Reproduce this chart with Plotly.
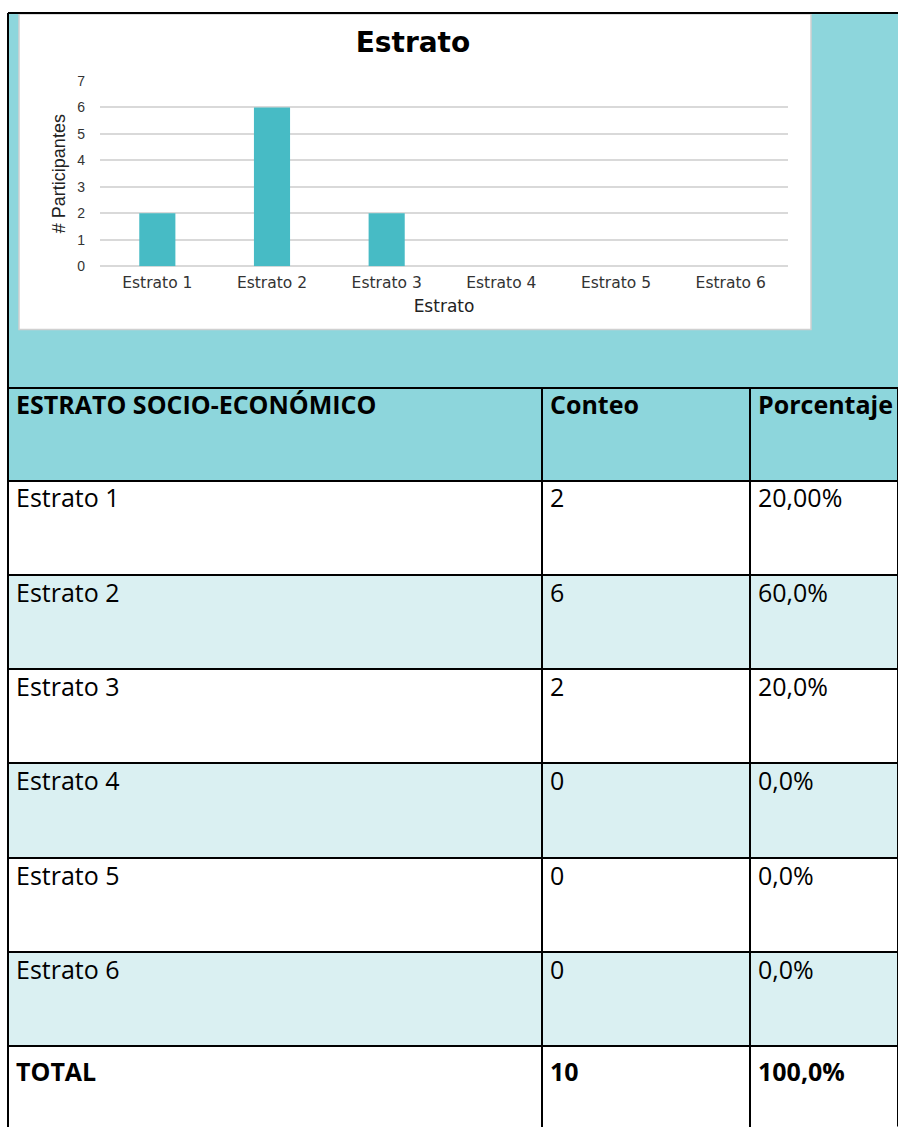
import plotly.graph_objects as go

# ---------------- data ----------------
categories = ["Estrato 1", "Estrato 2", "Estrato 3", "Estrato 4", "Estrato 5", "Estrato 6"]
participants = [2, 6, 2, 0, 0, 0]
y_ticks = [0, 1, 2, 3, 4, 5, 6, 7]

table_header = ["ESTRATO SOCIO-ECONÓMICO", "Conteo", "Porcentaje"]
table_rows = ["Estrato 1", "Estrato 2", "Estrato 3", "Estrato 4", "Estrato 5", "Estrato 6"]
table_counts = ["2", "6", "2", "0", "0", "0"]
table_percent = ["20,00%", "60,0%", "20,0%", "0,0%", "0,0%", "0,0%"]
total_label = "TOTAL"
total_count = "10"
total_percent = "100,0%"

# ---------------- geometry helpers ----------------
W, H = 898, 1135
def px(x):
    return x / W
def py(y):
    return 1 - y / H

TEAL = "#8DD6DC"
LIGHT = "#DAF0F2"
BAR = "#47BBC5"
GRID = "#D9D9D9"
WIDE_FONT = "DejaVu Sans, Verdana, sans-serif"
ARIAL = "Liberation Sans, Arial, sans-serif"
TABLE_FONT = "Open Sans, sans-serif"

TABLE_LEFT = 8
COL_WIDTHS = [534, 208, 148]

fig = go.Figure()

fig.add_trace(go.Bar(
    x=categories, y=participants,
    marker=dict(color=BAR, line=dict(width=0)),
    width=0.315, showlegend=False, hoverinfo="x+y",
))

col0 = table_rows + ["<b>" + total_label + "</b>"]
col1 = table_counts + ["<b>" + total_count + "</b>"]
col2 = table_percent + ["<b>" + total_percent + "</b>"]
row_fill = ["white" if i % 2 == 0 else LIGHT for i in range(len(col0))]

fig.add_trace(go.Table(
    domain=dict(x=[px(TABLE_LEFT), 1], y=[0, py(385)]),
    columnwidth=COL_WIDTHS,
    header=dict(
        values=table_header,
        fill=dict(color=TEAL),
        line=dict(color="black", width=2),
        align="left",
        height=93,
        font=dict(family=TABLE_FONT, size=25, color="black", weight="bold"),
    ),
    cells=dict(
        values=[col0, col1, col2],
        fill=dict(color=[row_fill, row_fill, row_fill]),
        line=dict(color="black", width=2),
        align="left",
        height=94.3,
        font=dict(family=TABLE_FONT, size=25, color="black"),
    ),
))

# column divider x positions (table spans TABLE_LEFT..W, widths proportional)
span = W - TABLE_LEFT
tot = sum(COL_WIDTHS)
div_x = [TABLE_LEFT, TABLE_LEFT + span * COL_WIDTHS[0] / tot,
         TABLE_LEFT + span * (COL_WIDTHS[0] + COL_WIDTHS[1]) / tot]

shapes = [
    # teal background of the upper block
    dict(type="rect", xref="paper", yref="paper", x0=px(8), x1=1, y0=py(385), y1=py(5),
         fillcolor=TEAL, line=dict(width=0), layer="below"),
    # white chart panel
    dict(type="rect", xref="paper", yref="paper", x0=px(19), x1=px(811), y0=py(326), y1=py(6),
         fillcolor="white", line=dict(color="#D0D0D0", width=1.5), layer="below"),
    # black frame lines
    dict(type="line", xref="paper", yref="paper", x0=px(8), x1=1, y0=py(5), y1=py(5),
         line=dict(color="black", width=2)),
    dict(type="line", xref="paper", yref="paper", x0=px(8), x1=px(8), y0=py(5), y1=py(385),
         line=dict(color="black", width=2)),
]
# continuation of the table's vertical rules down to the bottom edge of the page
for xv in div_x:
    shapes.append(dict(type="line", xref="paper", yref="paper", x0=px(xv), x1=px(xv),
                       y0=0, y1=py(1100), line=dict(color="black", width=2), layer="above"))

fig.update_layout(
    width=W, height=H,
    margin=dict(l=0, r=0, t=0, b=0),
    paper_bgcolor="white",
    plot_bgcolor="rgba(0,0,0,0)",
    shapes=shapes,
    title=dict(text="<b>Estrato</b>", x=px(413), y=py(35), xref="paper", yref="paper",
               xanchor="center", yanchor="middle",
               font=dict(family=WIDE_FONT, size=28, color="black")),
    xaxis=dict(
        domain=[px(100), px(788)],
        tickfont=dict(family=WIDE_FONT, size=15.5, color="#333333"),
        showline=False, showgrid=False, ticks="",
        ticklabelstandoff=5,
        title=dict(text="Estrato", font=dict(family=WIDE_FONT, size=17, color="#222222"), standoff=9),
        fixedrange=True,
    ),
    yaxis=dict(
        domain=[py(262), py(74)],
        range=[0, 7], tickvals=y_ticks,
        tickfont=dict(family=ARIAL, size=14, color="#333333"),
        showgrid=True, gridcolor=GRID, gridwidth=1.5,
        zeroline=True, zerolinecolor=GRID, zerolinewidth=1.5,
        showline=False, ticks="",
        ticklabelstandoff=14,
        title=dict(text="# Participantes", font=dict(family=ARIAL, size=18, color="#222222"), standoff=6),
        fixedrange=True,
    ),
)

fig.write_html("out.html", config={"displayModeBar": False},
               post_script="document.body.style.margin='0px';")
